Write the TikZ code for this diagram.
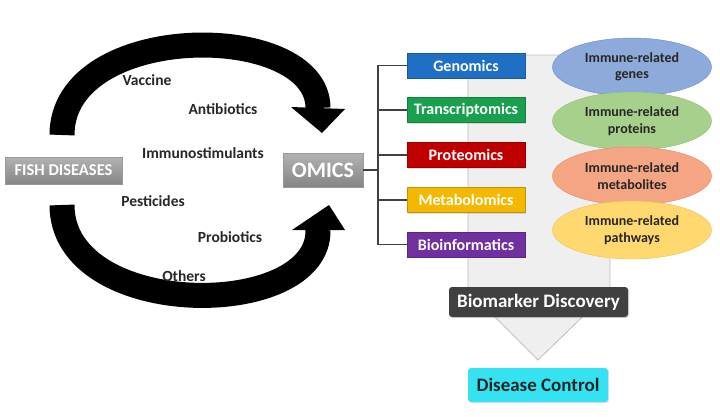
\documentclass[tikz,border=0pt]{standalone}
\usepackage{fontspec}
\setmainfont{Carlito}
\usetikzlibrary{shadows,shapes.geometric}
\definecolor{genc}{HTML}{1F6FC5}
\definecolor{trac}{HTML}{18A04E}
\definecolor{proc}{HTML}{C00000}
\definecolor{metc}{HTML}{F5B800}
\definecolor{bioc}{HTML}{7030A0}
\definecolor{ovb}{HTML}{8EAADB}
\definecolor{ovbl}{HTML}{6A8CC7}
\definecolor{ovg}{HTML}{A8D08D}
\definecolor{ovgl}{HTML}{8CBF6E}
\definecolor{ovo}{HTML}{F4A583}
\definecolor{ovol}{HTML}{E3896A}
\definecolor{ovy}{HTML}{FFD970}
\definecolor{ovyl}{HTML}{EEC050}
\definecolor{arrfill}{HTML}{EFEFEF}
\definecolor{arrline}{HTML}{BEBEBE}
\definecolor{linec}{HTML}{404040}
\definecolor{cyanc}{HTML}{35E2F2}
\begin{document}
\begin{tikzpicture}[x=1pt,y=-1pt,
  lbl/.style={font=\fontsize{15.5}{17}\selectfont\bfseries, text=black!85, inner sep=0pt},
  graybox/.style={top color=black!30, bottom color=black!48, draw=black!40, line width=0.4pt,
    text=white, font=\bfseries, inner sep=0pt,
    drop shadow={shadow xshift=1pt, shadow yshift=-1pt, opacity=0.25}},
  omicbox/.style={fill=#1, draw=#1!80!black, line width=0.4pt, text=white,
    minimum width=118pt, minimum height=25pt, inner sep=0pt,
    font=\fontsize{16}{18}\selectfont\bfseries,
    drop shadow={shadow xshift=1pt, shadow yshift=-1pt, opacity=0.25}},
  oval/.style={ellipse, fill=#1, minimum width=159pt, minimum height=58pt, inner sep=0pt,
    align=center, font=\fontsize{14}{16.5}\selectfont\bfseries, text=black!85},
  branch/.style={draw=linec, line width=1.2pt},
  bigarrow/.style={line width=25pt, line cap=butt},
]
\useasboundingbox (0,0) rectangle (720,416);

% large light background arrow
\draw[fill=arrfill, draw=arrline, line width=0.8pt]
  (468,55) -- (610,55) -- (610,290) -- (538,360) -- (468,290) -- cycle;

% curved black arrows
\draw[bigarrow] (62,135) .. controls (62,20) and (318,20) .. (318,108);
\fill (291,107) -- (345,109) -- (322,133) -- cycle;
\draw[bigarrow] (62,205) .. controls (62,321) and (320,321) .. (318,230);
\fill (292,230) -- (345,230) -- (329,205) -- cycle;

% main boxes
\node[graybox, minimum width=117pt, minimum height=27pt, font=\fontsize{16.5}{18}\selectfont\bfseries]
  (fish) at (63.5,170.5) {FISH DISEASES};
\node[graybox, minimum width=80pt, minimum height=34pt, font=\fontsize{22}{24}\selectfont\bfseries]
  (omics) at (323,170) {OMICS};

% cycle labels
\node[lbl] (vac) at (147,80) {Vaccine};
\node[lbl] (ant) at (223,109) {Antibiotics};
\node[lbl] (imm) at (203,153) {Immunostimulants};
\node[lbl] (pes) at (153,201) {Pesticides};
\node[lbl] (pro) at (230,237) {Probiotics};
\node[lbl] (oth) at (184,276) {Others};

% omics boxes
\node[omicbox=genc] (gen) at (466,65.5) {Genomics};
\node[omicbox=trac] (tra) at (466,110) {Transcriptomics};
\node[omicbox=proc] (prt) at (466,155) {Proteomics};
\node[omicbox=metc] (met) at (466,200) {Metabolomics};
\node[omicbox=bioc] (bio) at (466,244.5) {Bioinformatics};

% bracket
\coordinate (bt) at (378,65.5);
\draw[branch] (omics.east) -- (omics.east -| bt);
\draw[branch] (gen.west) -- (gen.west -| bt) -- (bio.west -| bt) -- (bio.west);
\draw[branch] (tra.west) -- (tra.west -| bt);
\draw[branch] (prt.west) -- (prt.west -| bt);
\draw[branch] (met.west) -- (met.west -| bt);

% ovals
\node[oval=ovb, draw=ovbl] (ogen) at (632,67) {Immune-related\\genes};
\node[oval=ovg, draw=ovgl] (opro) at (632,121) {Immune-related\\proteins};
\node[oval=ovo, draw=ovol] (omet) at (632,176) {Immune-related\\metabolites};
\node[oval=ovy, draw=ovyl] (opat) at (632,230) {Immune-related\\pathways};

% bottom boxes
\node[rounded corners=3pt, fill=black!75, text=white, minimum width=179pt, minimum height=30pt,
  inner sep=0pt, font=\fontsize{19}{21}\selectfont\bfseries,
  drop shadow={shadow xshift=1pt, shadow yshift=-1pt, opacity=0.3}]
  (bmk) at (538.5,302) {Biomarker Discovery};
\node[rounded corners=3pt, fill=cyanc, text=black!85, minimum width=140pt, minimum height=34pt,
  inner sep=0pt, font=\fontsize{19}{21}\selectfont\bfseries,
  drop shadow={shadow xshift=1pt, shadow yshift=-1pt, opacity=0.25}]
  (dis) at (538,385) {Disease Control};
\end{tikzpicture}
\end{document}
